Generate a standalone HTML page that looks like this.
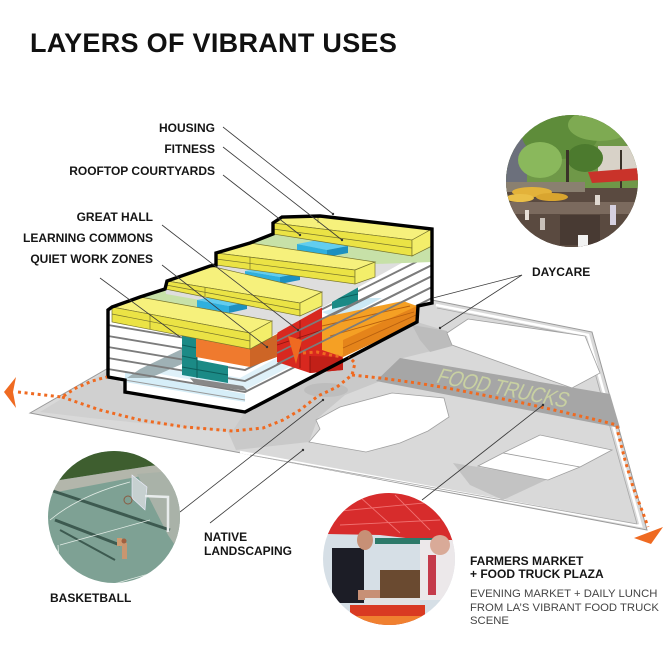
<!DOCTYPE html>
<html><head><meta charset="utf-8">
<style>
html,body{margin:0;padding:0;background:#fff;}
svg{display:block;}
text{font-family:"Liberation Sans",Arial,sans-serif;}
.lb{font-weight:bold;font-size:12px;fill:#151515;}
.bt{font-size:11.3px;fill:#454545;}
.ld{stroke:#3a3a3a;stroke-width:0.8;fill:none;}
</style></head>
<body>
<svg width="670" height="670" viewBox="0 0 670 670" xmlns="http://www.w3.org/2000/svg">
<defs>
<clipPath id="c1"><circle cx="572" cy="181" r="66"/></clipPath>
<clipPath id="c2"><circle cx="114" cy="517" r="66"/></clipPath>
<clipPath id="c3"><circle cx="389" cy="559" r="66"/></clipPath>
</defs>
<rect width="670" height="670" fill="#fff"/>

<!-- title -->
<text x="30" y="52" style="font-weight:bold;font-size:27px;fill:#111;letter-spacing:0.3px">LAYERS OF VIBRANT USES</text>

<!-- ground plane -->
<polygon points="30,413 112,366 432,300 592,332 647,530" fill="#d9d9d9" stroke="#9a9a9a" stroke-width="1"/>
<polyline points="436,305 588,335 641,526 240,452" fill="none" stroke="#ffffff" stroke-width="2.6"/>
<polyline points="437,308 585,337 637,524 250,455" fill="none" stroke="#a8a8a8" stroke-width="0.8"/>
<!-- shadows -->
<polygon points="225,425 245,412 417,322 447,331 452,346 403,358 378,382 345,395 318,418 309,442 236,450" fill="#c9c9c9"/>
<polygon points="40,412 112,368 125,392 245,412 232,432 150,424 90,418" fill="#d0d0d0"/>
<ellipse cx="326" cy="390" rx="22" ry="7" fill="#bdbdbd"/>
<polygon points="453,463 478,467 548,479 503,500 470,485" fill="#c3c3c3"/>
<polygon points="412,325 447,331 452,346 430,352 420,340" fill="#bcbcbc"/>
<!-- white cutouts -->
<polygon points="447,333 468,319 585,336 600,373 572,388 452,345" fill="#ffffff" stroke="#a0a0a0" stroke-width="0.8"/>
<polygon points="309,442 320,429 316,420 340,407 392,393 444,398 449,417 428,431 400,443 366,452" fill="#ffffff" stroke="#a0a0a0" stroke-width="0.8"/>
<polygon points="478,466 503,453 540,435 612,450 580,467 548,480" fill="#ffffff" stroke="#a0a0a0" stroke-width="0.8"/>
<line x1="503" y1="453" x2="580" y2="467" stroke="#9a9a9a" stroke-width="0.8"/>
<!-- food trucks band -->
<polygon points="400,358 610,394 620,428 376,381" fill="#a6a6a6"/>
<text transform="translate(500,395) rotate(11) skewX(-14) scale(0.9,1.05)" text-anchor="middle" style="font-size:21px;fill:#c8d0a2;letter-spacing:-0.5px">FOOD TRUCKS</text>

<!-- BUILDING -->
<polygon points="108,310 112,307 140,297 165,289 167,281 210,266 216,265 216,253 250,243 273,234 273,223 282,217 320,216 432,229 432,303 418,306 417,322 245,412 125,392 125,380 108,377" fill="#ffffff"/>
<!-- light blue bottom zone -->
<polygon points="125,372 245,394 245,402 125,382" fill="#d6eef8"/>
<polygon points="150,372 245,390 330,346 300,345 240,378 190,368" fill="#dff1f9"/>
<polygon points="322,312 365,298 382,298 340,320" fill="#cce9f5"/>
<!-- gray slab -->
<polygon points="127,378 140,369 182,349 182,364 150,378" fill="#9fb1b5"/>
<!-- floor lines -->
<g stroke="#7c7c7c" stroke-width="1.9" fill="none">
<polyline points="108,325 245,348 432,254"/>
<polyline points="108,336 245,359 432,265"/>
<polyline points="108,347 245,370 432,276"/>
<polyline points="108,358 245,381 432,287"/>
<polyline points="108,369 245,392 432,298"/>
</g>
<line x1="125" y1="380" x2="245" y2="400" stroke="#9a9a9a" stroke-width="1"/>
<!-- gray bar below teal -->
<polygon points="190,378 243,386 248,391 195,384" fill="#888"/>
<!-- teal -->
<polygon points="182,334 197,337 197,360 228,366 228,383 182,375" fill="#1b8a86"/>
<g stroke="#0d5e5b" stroke-width="1">
<line x1="182" y1="345" x2="197" y2="348"/><line x1="182" y1="356" x2="197" y2="359"/>
<line x1="182" y1="367" x2="228" y2="375"/><line x1="197" y1="337" x2="197" y2="378"/>
</g>
<polygon points="332,292 358,286 358,303 332,309" fill="#1b8a86"/>
<line x1="332" y1="300" x2="358" y2="294" stroke="#0d5e5b" stroke-width="1"/>
<!-- orange long block -->
<polygon points="320,318 403,301 417,306 416,323 343,357 320,350" fill="#f5a024"/>
<polygon points="343,340 417,306 416,323 343,357" fill="#e5841a"/>
<g stroke="#b8600f" stroke-width="0.9">
<line x1="322" y1="326" x2="410" y2="306"/><line x1="330" y1="336" x2="414" y2="312"/><line x1="343" y1="348" x2="416" y2="315"/>
</g>
<!-- red block -->
<polygon points="277,334 285,320 322,307 322,350 343,357 343,370 310,373 277,362" fill="#d8281f"/>
<polygon points="310,356 343,357 343,370 310,373" fill="#c22018"/>
<g stroke="#8e1510" stroke-width="0.9">
<line x1="277" y1="345" x2="322" y2="330"/><line x1="300" y1="318" x2="300" y2="368"/><line x1="310" y1="356" x2="310" y2="373"/>
</g>
<g stroke="#7c7c7c" stroke-width="1.8" fill="none">
<polyline points="277,364 432,287"/>
<polyline points="277,353 432,276"/>
<polyline points="277,341 432,265"/>
</g>
<!-- orange block -->
<polygon points="196,337 250,348 250,367 196,357" fill="#ef7a2e"/>
<polygon points="250,348 277,334 277,357 250,367" fill="#cd6526"/>
<!-- roof base -->
<polygon points="112,307 140,297 165,289 167,281 210,266 216,265 216,253 250,243 273,234 273,223 282,217 320,216 432,229 432,246 250,348 112,322" fill="#dedede"/>
<!-- green roof patches -->
<polygon points="250,243 273,234 412,256 432,246 432,262 376,264 250,248" fill="#c7e1a8"/>
<polygon points="140,297 165,289 166,294 200,300 197,307 150,304" fill="#c7e1a8"/>
<!-- blue boxes -->
<g>
<polygon points="297,244 318,240 348,246 327,250" fill="#62cdef"/>
<polygon points="297,244 327,250 327,257 297,251" fill="#2fb0de"/>
<polygon points="327,250 348,246 348,253 327,257" fill="#1d90c0"/>
<polygon points="245,271 265,267 300,273 280,277" fill="#62cdef"/>
<polygon points="245,271 280,277 280,284 245,278" fill="#2fb0de"/>
<polygon points="280,277 300,273 300,280 280,284" fill="#1d90c0"/>
<polygon points="197,300 215,296 247,302 229,306" fill="#62cdef"/>
<polygon points="197,300 229,306 229,313 197,307" fill="#2fb0de"/>
<polygon points="229,306 247,302 247,309 229,313" fill="#1d90c0"/>
</g>
<!-- yellow rows (back to front) -->
<g stroke="#77742c" stroke-width="0.7">
<!-- row3 -->
<polygon points="273,223 282,217 320,216 432,229 412,240" fill="#f6f17c"/>
<polygon points="273,223 412,240 412,256 273,234" fill="#ebe345"/>
<polygon points="412,240 432,229 432,246 412,256" fill="#f3ee6a"/>
<line x1="273" y1="229" x2="412" y2="248"/>
<line x1="318" y1="216" x2="318" y2="223"/>
<!-- row2 -->
<polygon points="216,253 250,243 375,262 355,270" fill="#f6f17c"/>
<polygon points="216,253 355,270 355,284 216,265" fill="#ebe345"/>
<polygon points="355,270 375,262 375,277 355,284" fill="#f3ee6a"/>
<line x1="216" y1="259" x2="355" y2="277"/>
<line x1="250" y1="257" x2="250" y2="269"/>
<!-- row1 -->
<polygon points="167,281 210,266 322,292 300,303" fill="#f6f17c"/>
<polygon points="167,281 300,303 300,316 165,289" fill="#ebe345"/>
<polygon points="300,303 322,292 322,306 300,316" fill="#f3ee6a"/>
<line x1="166" y1="285" x2="300" y2="310"/>
<line x1="205" y1="287" x2="205" y2="296"/>
<!-- row0 -->
<polygon points="112,307 140,297 272,321 250,333" fill="#f6f17c"/>
<polygon points="112,307 250,333 250,349 112,322" fill="#ebe345"/>
<polygon points="250,333 272,321 272,337 250,349" fill="#f3ee6a"/>
<line x1="112" y1="314" x2="250" y2="341"/>
<line x1="150" y1="314" x2="150" y2="329"/>
</g>
<!-- building outline -->
<polygon points="108,310 112,307 140,297 165,289 167,281 210,266 216,265 216,253 250,243 273,234 273,223 282,217 320,216 432,229 432,303 418,306 417,322 245,412 125,392 125,380 108,377" fill="none" stroke="#000" stroke-width="3.4" stroke-linejoin="miter"/>

<!-- dotted path -->
<g fill="none" stroke="#ef6a21" stroke-width="3" stroke-dasharray="3 3.6">
<polyline points="18,392 62,397 76,388 92,381 107,377"/>
<polyline points="62,397 100,410 140,420 185,427 233,431 263,428 283,420 300,410 318,396 337,387 352,375 355,363 349,357"/>
<polyline points="352,375 380,378 417,383 447,388 483,395 523,403 563,412 597,420 617,425 618,433 625,460 633,487 643,513 648,527"/>
<polyline points="303,353 317,352 330,355 343,357"/>
</g>
<polygon points="4,392 16,377 13,392 16,408" fill="#ef6a21"/>
<polygon points="634,538 663,527 651,544" fill="#ef6a21"/>
<polygon points="288,336 302,340 296,364" fill="#ef6a21"/>

<!-- leader lines -->
<g class="ld">
<line x1="223" y1="127" x2="333" y2="214"/>
<line x1="223" y1="147" x2="342" y2="240"/>
<line x1="223" y1="175" x2="300" y2="235"/>
<line x1="162" y1="225" x2="298" y2="330"/>
<line x1="100" y1="278" x2="180" y2="337"/>
<line x1="162" y1="265" x2="267" y2="347"/>
<polyline points="433,298 522,275 440,328"/>
<line x1="210" y1="523" x2="303" y2="450"/>
<line x1="180" y1="512" x2="323" y2="400"/>
<line x1="422" y1="500" x2="543" y2="405"/>
</g>
<g fill="#333">
<circle cx="333" cy="214" r="1.2"/><circle cx="342" cy="240" r="1.2"/><circle cx="300" cy="235" r="1.2"/>
<circle cx="298" cy="330" r="1.2"/><circle cx="267" cy="347" r="1.2"/><circle cx="440" cy="328" r="1.2"/>
<circle cx="303" cy="450" r="1.2"/><circle cx="323" cy="400" r="1.2"/><circle cx="543" cy="405" r="1.2"/>
</g>

<!-- labels -->
<text class="lb" x="215" y="132" text-anchor="end">HOUSING</text>
<text class="lb" x="215" y="153" text-anchor="end">FITNESS</text>
<text class="lb" x="215" y="175" text-anchor="end">ROOFTOP COURTYARDS</text>
<text class="lb" x="153" y="221" text-anchor="end">GREAT HALL</text>
<text class="lb" x="153" y="242" text-anchor="end">LEARNING COMMONS</text>
<text class="lb" x="153" y="263" text-anchor="end">QUIET WORK ZONES</text>
<text class="lb" x="532" y="276">DAYCARE</text>
<text class="lb" x="204" y="541">NATIVE</text>
<text class="lb" x="204" y="555">LANDSCAPING</text>
<text class="lb" x="50" y="602">BASKETBALL</text>
<text class="lb" x="470" y="565">FARMERS MARKET</text>
<text class="lb" x="470" y="578">+ FOOD TRUCK PLAZA</text>
<text class="bt" x="470" y="597">EVENING MARKET + DAILY LUNCH</text>
<text class="bt" x="470" y="611">FROM LA’S VIBRANT FOOD TRUCK</text>
<text class="bt" x="470" y="624">SCENE</text>

<!-- daycare photo -->
<g clip-path="url(#c1)">
<rect x="500" y="110" width="150" height="150" fill="#564638"/>
<rect x="500" y="110" width="150" height="95" fill="#6f9848"/>
<ellipse cx="522" cy="128" rx="22" ry="18" fill="#e4ecf2"/>
<rect x="503" y="138" width="24" height="55" fill="#6c707c"/>
<rect x="598" y="146" width="45" height="34" fill="#d8d2c8"/>
<ellipse cx="560" cy="135" rx="38" ry="24" fill="#5e8c3a"/>
<ellipse cx="600" cy="125" rx="32" ry="16" fill="#7eaa52"/>
<ellipse cx="540" cy="160" rx="22" ry="18" fill="#8ab85c"/>
<ellipse cx="585" cy="158" rx="18" ry="14" fill="#4c7a2e"/>
<rect x="566" y="150" width="3" height="50" fill="#3a3228"/>
<rect x="620" y="150" width="2" height="40" fill="#3a3228"/>
<polygon points="588,172 640,168 640,180 592,183" fill="#c9332a"/>
<rect x="500" y="188" width="150" height="72" fill="#5a4a40"/>
<rect x="505" y="182" width="80" height="10" fill="#8a8070"/>
<ellipse cx="532" cy="192" rx="20" ry="5" fill="#e3b23a"/>
<ellipse cx="552" cy="197" rx="16" ry="4" fill="#d9a52f"/>
<ellipse cx="520" cy="198" rx="14" ry="4" fill="#eabf48"/>
<rect x="510" y="202" width="125" height="12" fill="#7b6a5e"/>
<rect x="560" y="215" width="40" height="30" fill="#483a33"/>
<rect x="578" y="235" width="10" height="12" fill="#f2f2f2"/>
<rect x="610" y="205" width="6" height="20" fill="#d6d0e0"/>
<rect x="540" y="218" width="5" height="12" fill="#c8c0b8"/>
<rect x="525" y="210" width="4" height="10" fill="#e8e0d8"/>
<rect x="595" y="195" width="5" height="10" fill="#e0d8d0"/>
</g>

<!-- basketball photo -->
<g clip-path="url(#c2)">
<rect x="45" y="450" width="140" height="140" fill="#7ea194"/>
<polygon points="45,450 185,450 185,462 150,466 60,480 45,484" fill="#3e5e2f"/>
<polygon points="45,484 60,480 150,466 185,462 185,470 152,474 62,491 45,495" fill="#b3b6ab"/>
<polygon points="137,474 185,470 185,560 168,535" fill="#a9b2a8"/>
<line x1="50" y1="490" x2="170" y2="530" stroke="#3d5a50" stroke-width="3"/>
<line x1="55" y1="520" x2="120" y2="545" stroke="#3d5a50" stroke-width="3"/>
<line x1="60" y1="530" x2="115" y2="560" stroke="#3d5a50" stroke-width="2"/>
<g stroke="#e3ece6" stroke-width="0.8" fill="none">
<path d="M50,520 Q80,495 130,482"/><line x1="60" y1="545" x2="150" y2="520"/><line x1="58" y1="545" x2="60" y2="580"/><line x1="110" y1="585" x2="180" y2="565"/>
</g>
<polygon points="132,475 147,487 145,510 132,498" fill="#c6d0d0" stroke="#eef" stroke-width="0.6"/>
<polyline points="145,496 168,497 168,532" fill="none" stroke="#e8ecec" stroke-width="2.5"/>
<circle cx="128" cy="500" r="4" fill="none" stroke="#8a5a40" stroke-width="1"/>
<rect x="117" y="538" width="5" height="8" fill="#cf9a70"/>
<rect x="122" y="543" width="5" height="16" fill="#c89670"/>
<circle cx="124" cy="541" r="2.5" fill="#a06040"/>
</g>

<!-- farmers market photo -->
<g clip-path="url(#c3)">
<rect x="320" y="490" width="140" height="140" fill="#d6dfe6"/>
<polygon points="320,490 460,490 460,542 423,540 380,535 327,534 320,534" fill="#d72c2c"/>
<g stroke="#f07070" stroke-width="0.9" fill="none">
<line x1="330" y1="512" x2="455" y2="500"/><line x1="360" y1="497" x2="400" y2="533"/><line x1="340" y1="525" x2="440" y2="520"/><line x1="395" y1="495" x2="430" y2="530"/>
</g>
<rect x="375" y="538" width="60" height="6" fill="#2d7a6a"/>
<rect x="332" y="548" width="32" height="55" fill="#1c1d26"/>
<ellipse cx="365" cy="540" rx="8" ry="10" fill="#c79076"/>
<rect x="358" y="590" width="25" height="10" fill="#c79076"/>
<rect x="380" y="570" width="40" height="30" fill="#6a4a30"/>
<rect x="420" y="540" width="40" height="60" fill="#ece8ea"/>
<ellipse cx="440" cy="545" rx="10" ry="10" fill="#d9aa98"/>
<rect x="428" y="555" width="8" height="40" fill="#c43a4a"/>
<rect x="365" y="598" width="55" height="10" fill="#e2e2e2"/>
<rect x="350" y="605" width="75" height="25" fill="#d93a22"/>
<rect x="350" y="616" width="75" height="10" fill="#f08030"/>
</g>
</svg>
</body></html>
